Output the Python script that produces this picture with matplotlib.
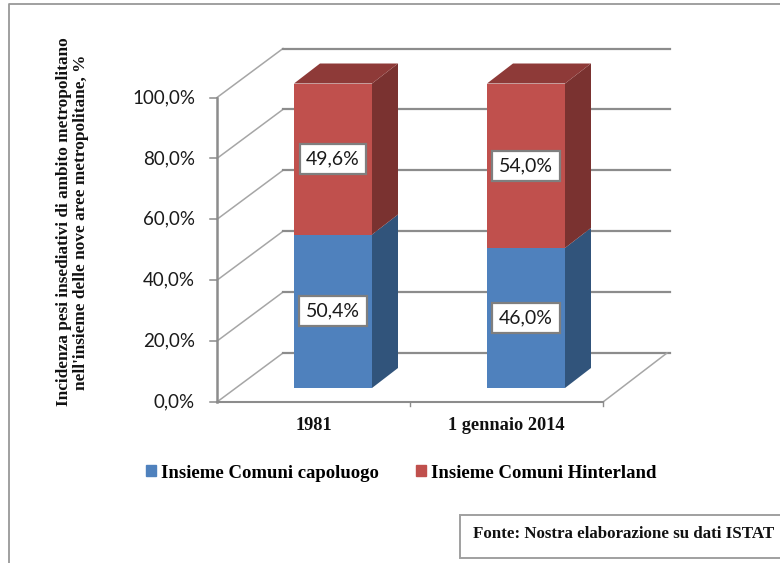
import matplotlib
matplotlib.use('Agg')
import matplotlib.pyplot as plt
from matplotlib.patches import Polygon, Rectangle

# data
categories = ['1981', '1 gennaio 2014']
capoluogo = [50.4, 46.0]
hinterland = [49.6, 54.0]
yticks = [0, 20, 40, 60, 80, 100]
ytick_labels = ['0,0%', '20,0%', '40,0%', '60,0%', '80,0%', '100,0%']
series_names = ['Insieme Comuni capoluogo', 'Insieme Comuni Hinterland']
ylabel = "Incidenza pesi insediativi di ambito metropolitano\nnell'insieme delle nove aree metropolitane, %"
source = 'Fonte: Nostra elaborazione su dati ISTAT'

W, H = 780, 563
sx, sy = 193.0, 3.045   # pixels per category, pixels per percent
x0_px, y0_px = 333, 388  # where category 0 / value 0 fall on the bar front

BLUE, BLUE_SIDE = '#4F81BD', '#31547B'
RED, RED_SIDE, RED_TOP = '#C0504D', '#7A3230', '#8E3A38'
GREY = '#8C8C8C'
SERIF = 'Liberation Serif'


def dx(p):
    return p / sx


def dy(p):
    return p / sy


fig = plt.figure(figsize=(W / 100, H / 100), dpi=100)
ax = fig.add_axes([0, 0, 1, 1])
ax.set_xlim(-x0_px / sx, (W - x0_px) / sx)
ax.set_ylim(-(H - y0_px) / sy, y0_px / sy)
ax.axis('off')

# outer frame
ax.plot([9 / W, 9 / W, 1], [0, 1 - 4 / H, 1 - 4 / H], transform=ax.transAxes, color='#999999', lw=1.3, zorder=1)

# walls, in data units
wall_l = dx(217 - x0_px)
wall_r = dx(603 - x0_px)
wall_off = dy(-14)
depth_x, depth_y = dx(66), dy(49)
for i, v in enumerate(yticks):
    y = v + wall_off
    ax.plot([wall_l, wall_l + depth_x], [y, y + depth_y], color='#A6A6A6', lw=1.1, zorder=2)
    ax.plot([wall_l + depth_x, wall_r + depth_x + dx(1)], [y + depth_y, y + depth_y], color=GREY, lw=1.6, zorder=2)
    ax.plot([wall_l - dx(7), wall_l], [y, y], color=GREY, lw=1.1, zorder=3)
    ax.text(wall_l - dx(22), y, ytick_labels[i], ha='right', va='center', family='Lato', fontsize=13.5, color='#1a1a1a')

ax.plot([wall_l, wall_l], [wall_off, 100 + wall_off], color=GREY, lw=1.8, zorder=3)
ax.plot([wall_l, wall_r], [wall_off, wall_off], color=GREY, lw=1.5, zorder=3)
ax.plot([wall_r, wall_r + depth_x - dx(2)], [wall_off, wall_off + depth_y], color='#A6A6A6', lw=1.1, zorder=2)
floor_mid = (wall_l + wall_r) / 2
for t in [floor_mid, wall_r]:
    ax.plot([t, t], [wall_off, wall_off - dy(4)], color=GREY, lw=1, zorder=3)

# bars
xs = range(len(categories))
bw = dx(78)
ax.bar(xs, capoluogo, width=bw, color=BLUE, edgecolor='none', zorder=5)
ax.bar(xs, hinterland, width=bw, bottom=capoluogo, color=RED, edgecolor='none', zorder=5)

side_x, side_y = dx(26), dy(20)
for i in xs:
    r = i + bw / 2
    l = i - bw / 2
    b = capoluogo[i]
    t = capoluogo[i] + hinterland[i]
    ax.add_patch(Polygon([(r, 0), (r + side_x, side_y), (r + side_x, b + side_y), (r, b)], color=BLUE_SIDE, lw=0, zorder=4))
    ax.add_patch(Polygon([(r, b), (r + side_x, b + side_y), (r + side_x, t + side_y), (r, t)], color=RED_SIDE, lw=0, zorder=4))
    ax.add_patch(Polygon([(l, t), (l + side_x, t + side_y), (r + side_x, t + side_y), (r, t)], color=RED_TOP, lw=0, zorder=4))
    # data labels
    for y, val in [(b / 2, capoluogo[i]), (b + hinterland[i] / 2, hinterland[i])]:
        ax.text(i, y, f'{val:.1f}%'.replace('.', ','), ha='center', va='center', family='Lato', fontsize=14,
                color='#1a1a1a', zorder=7,
                bbox=dict(boxstyle='square,pad=0.34', fc='white', ec='#7F7F7F', lw=1.6))

# category labels
cat_x = [wall_l + (wall_r - wall_l) * (i + 0.5) / len(categories) for i in xs]
for x, c in zip(cat_x, categories):
    ax.text(x, dy(388 - 425), c, ha='center', va='center', family=SERIF, weight='bold', fontsize=13.2, color='#111111')

# y title
ax.text(dx(72.5 - x0_px), dy(388 - 222), ylabel, rotation=90, ha='center', va='center', multialignment='center',
        family=SERIF, weight='bold', fontsize=12.4, linespacing=1.15, color='#111111')

# legend
handles = [Rectangle((0, 0), 1, 1, color=BLUE), Rectangle((0, 0), 1, 1, color=RED)]
ax.legend(handles, series_names, ncol=2, frameon=False, loc='center', bbox_to_anchor=(401.5 / W, 1 - 473 / H),
          handlelength=0.52, handleheight=0.52, handletextpad=0.27, columnspacing=2.0, borderpad=0,
          prop={'family': SERIF, 'weight': 'bold', 'size': 13.5})

# source box
ax.add_patch(Rectangle((460 / W, 1 - 558 / H), 325 / W, 43 / H, transform=ax.transAxes, fc='white', ec='#A0A0A0',
                       lw=1.4, zorder=6))
ax.text(624 / W, 1 - 534 / H, source, transform=ax.transAxes, ha='center', va='center', family=SERIF, weight='bold',
        fontsize=12.2, color='#111111', zorder=7)

fig.savefig('out.png', dpi=100)
